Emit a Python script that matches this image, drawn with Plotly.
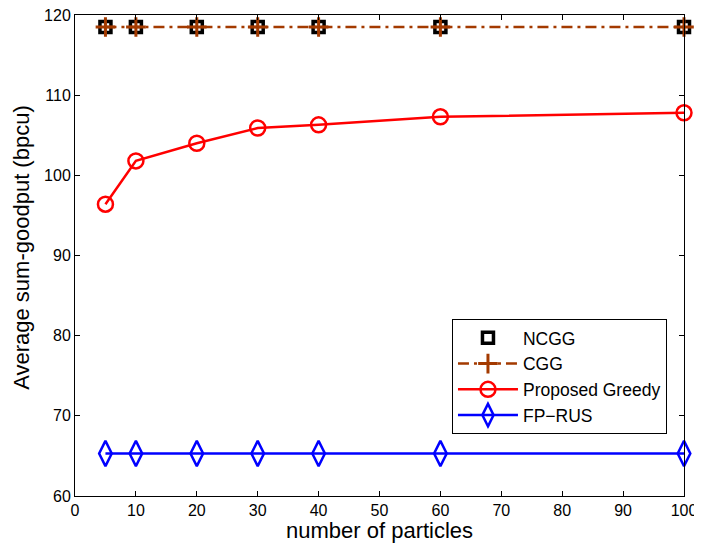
import plotly.graph_objects as go

particles = [5, 10, 20, 30, 40, 60, 100]
ncgg = [118.5, 118.5, 118.5, 118.5, 118.5, 118.5, 118.5]
cgg = [118.5, 118.5, 118.5, 118.5, 118.5, 118.5, 118.5]
proposed = [96.4, 101.8, 104.0, 105.9, 106.3, 107.3, 107.8]
fprus = [65.3, 65.3, 65.3, 65.3, 65.3, 65.3, 65.3]

x_ticks = [0, 10, 20, 30, 40, 50, 60, 70, 80, 90, 100]
y_ticks = [60, 70, 80, 90, 100, 110, 120]

FONT = "Liberation Sans, Arial, Helvetica"
CGG_COLOR = "#A33A00"

fig = go.Figure()
fig.add_trace(go.Scatter(x=particles, y=ncgg, name="NCGG", mode="markers", cliponaxis=False,
                         marker=dict(symbol="square-open", size=11, color="black",
                                     line=dict(width=3.5, color="black"))))
fig.add_trace(go.Scatter(x=particles, y=cgg, name="CGG", mode="lines+markers", cliponaxis=False,
                         line=dict(color=CGG_COLOR, width=2.5, dash="11px,5px,3px,5px"),
                         marker=dict(symbol="cross-thin", size=14,
                                     line=dict(width=3, color=CGG_COLOR))))
fig.add_trace(go.Scatter(x=particles, y=proposed, name="Proposed Greedy", mode="lines+markers",
                         cliponaxis=False,
                         line=dict(color="#FF0000", width=2.5),
                         marker=dict(symbol="circle-open", size=15, color="#FF0000",
                                     line=dict(width=2.5, color="#FF0000"))))
fig.add_trace(go.Scatter(x=particles, y=fprus, name="FP\u2212RUS", mode="lines+markers",
                         cliponaxis=False,
                         line=dict(color="#0000FF", width=2.5),
                         marker=dict(symbol="diamond-tall-open", size=18, color="#0000FF",
                                     line=dict(width=2.5, color="#0000FF"))))

axis_common = dict(showgrid=False, zeroline=False, showline=True, linecolor="black",
                   linewidth=1, mirror="ticks", ticks="inside", ticklen=5, tickwidth=1,
                   tickcolor="black", automargin=False, ticklabeloverflow="allow",
                   tickfont=dict(family=FONT, size=16, color="black"))

# The page body adds an 8px offset, so the figure is sized to fit the 702x548 window.
fig.update_layout(
    width=694, height=540,
    margin=dict(l=67, r=18, t=7, b=52),
    paper_bgcolor="white", plot_bgcolor="white",
    font=dict(family=FONT, color="black"),
    xaxis=dict(range=[0, 100], tickvals=x_ticks, **axis_common),
    yaxis=dict(range=[60, 120], tickvals=y_ticks, **axis_common),
    legend=dict(x=0.619, y=0.368, xanchor="left", yanchor="top",
                bgcolor="white", bordercolor="black", borderwidth=1,
                font=dict(size=17.5, family=FONT, color="black"),
                tracegroupgap=0, itemwidth=60),
    showlegend=True,
    annotations=[
        dict(text="number of particles", xref="paper", yref="paper", x=0.5, y=-0.071,
             xanchor="center", yanchor="middle", showarrow=False,
             font=dict(size=22, family=FONT, color="black")),
        dict(text="Average sum-goodput (bpcu)", xref="paper", yref="paper", x=-0.087, y=0.516,
             xanchor="center", yanchor="middle", showarrow=False, textangle=-90,
             font=dict(size=22, family=FONT, color="black")),
    ],
)

fig.write_html("out.html")
